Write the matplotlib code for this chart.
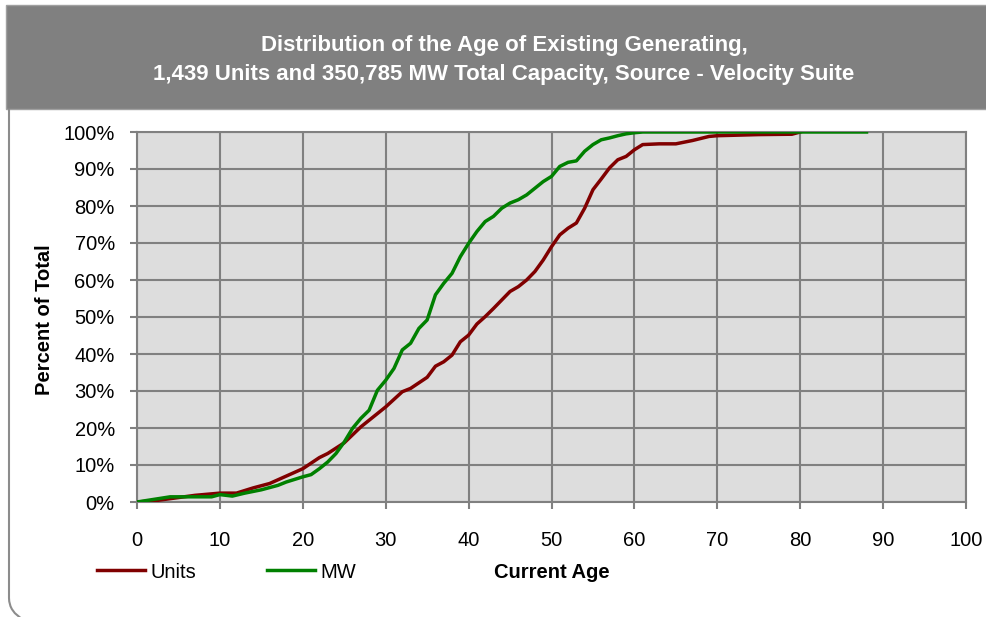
import matplotlib
matplotlib.use("Agg")
import matplotlib.pyplot as plt
from matplotlib.patches import Rectangle, PathPatch
from matplotlib.path import Path
from matplotlib.ticker import PercentFormatter

plt.rcParams['font.family'] = ['Liberation Sans', 'DejaVu Sans']

title = "Distribution of the Age of Existing Generating,\n1,439 Units and 350,785 MW Total Capacity, Source - Velocity Suite"

# cumulative share of units by current age
unitsAge = [0, 2, 4, 7, 10, 12, 14, 16, 18, 20, 22, 23, 25, 27, 29, 30, 32, 33, 35, 36,
            37, 38, 39, 40, 41, 42, 43, 44, 45, 46, 47, 48, 49, 50, 51, 52, 53, 54, 55,
            56, 57, 58, 59, 60, 61, 63, 65, 67, 69, 70, 75, 79, 80]
unitsPct = [0, 0.3, 0.9, 1.8, 2.4, 2.4, 3.8, 5.0, 7.0, 9.0, 12.0, 13.1, 16.0, 20.3, 23.9,
            25.7, 29.8, 30.7, 33.7, 36.7, 37.9, 39.7, 43.3, 45.1, 48.1, 50.1, 52.3, 54.6,
            56.9, 58.2, 60.0, 62.3, 65.4, 69.0, 72.2, 74.0, 75.4, 79.4, 84.4, 87.3, 90.3,
            92.5, 93.4, 95.2, 96.6, 96.8, 96.8, 97.7, 98.8, 99.0, 99.3, 99.4, 100]

# cumulative share of MW by current age
mwAge = [0, 2, 4, 6, 9, 10, 11.5, 13, 15, 17, 18, 20, 21, 22, 23, 24, 25, 26, 27, 28, 29,
         30, 31, 32, 33, 34, 35, 36, 37, 38, 39, 40, 41, 42, 43, 44, 45, 46, 47, 48, 49,
         50, 51, 52, 53, 54, 55, 56, 57, 58, 59, 60, 61, 88]
mwPct = [0, 0.7, 1.4, 1.4, 1.4, 2.0, 1.6, 2.4, 3.3, 4.5, 5.4, 6.8, 7.4, 9.0, 10.8, 13.1,
         16.2, 19.9, 22.6, 24.8, 30.2, 32.9, 36.1, 41.1, 42.9, 46.9, 49.2, 56.0, 59.1,
         61.8, 66.3, 69.9, 73.1, 75.8, 77.2, 79.4, 80.8, 81.7, 83.0, 84.8, 86.6, 88.0,
         90.7, 91.8, 92.2, 94.8, 96.6, 97.9, 98.4, 99.0, 99.5, 99.8, 100, 100]

W, H = 987, 617
fig = plt.figure(figsize=(W / 100, H / 100), dpi=100)

# grey header band
fig.patches.append(Rectangle((6 / W, 1 - 109 / H), 1 - 6 / W, 104 / H,
                             transform=fig.transFigure, facecolor='#808080',
                             edgecolor='#a0a0a0', lw=1, zorder=0))
fig.text(504 / W, 1 - 60 / H, title, color='white', fontsize=16, fontweight='bold',
         ha='center', va='center', linespacing=1.5)

# outer frame (left side with rounded corner)
verts = [(9, 109), (9, 598), (9, 612), (24, 620)]
verts = [(x / 100, (H - y) / 100) for x, y in verts]
frame = Path(verts, [Path.MOVETO, Path.LINETO, Path.CURVE3, Path.CURVE3])
fig.patches.append(PathPatch(frame, transform=fig.dpi_scale_trans, fill=False,
                             edgecolor='#8c8c8c', lw=1.5))

ax = fig.add_axes([137 / W, 1 - 502 / H, (966 - 137) / W, (502 - 132) / H])
ax.set_facecolor('#dddddd')
l1, = ax.plot(unitsAge, unitsPct, color='#800000', lw=2.5, label='Units', zorder=3)
l2, = ax.plot(mwAge, mwPct, color='#008000', lw=2.5, label='MW', zorder=3)

ax.set_xlim(0, 100)
ax.set_ylim(0, 100)
ax.set_xticks(range(0, 101, 10))
ax.set_yticks(range(0, 101, 10))
ax.yaxis.set_major_formatter(PercentFormatter(decimals=0))
ax.grid(True, color='#808080', lw=1.5)
ax.set_axisbelow(True)
for s in ax.spines.values():
    s.set_color('#808080')
    s.set_linewidth(1.5)
ax.tick_params(axis='x', direction='out', length=5, width=1.5, color='#808080',
               labelsize=14.5, pad=16)
ax.tick_params(axis='y', direction='out', length=5, width=1.5, color='#808080',
               labelsize=14.5, pad=11)

fig.text(45 / W, 1 - 320 / H, 'Percent of Total', rotation=90, fontsize=14.5,
         fontweight='bold', ha='center', va='center')
fig.text(552 / W, 1 - 572 / H, 'Current Age', fontsize=14.5, fontweight='bold',
         ha='center', va='center')

fig.legend(handles=[l1, l2], loc='center left', bbox_to_anchor=(97 / W, 1 - 572 / H),
           ncol=2, frameon=False, fontsize=14.5, handlelength=2.4, handletextpad=0.25,
           columnspacing=3.5, borderpad=0, borderaxespad=0)

fig.savefig('out.png', dpi=100)
